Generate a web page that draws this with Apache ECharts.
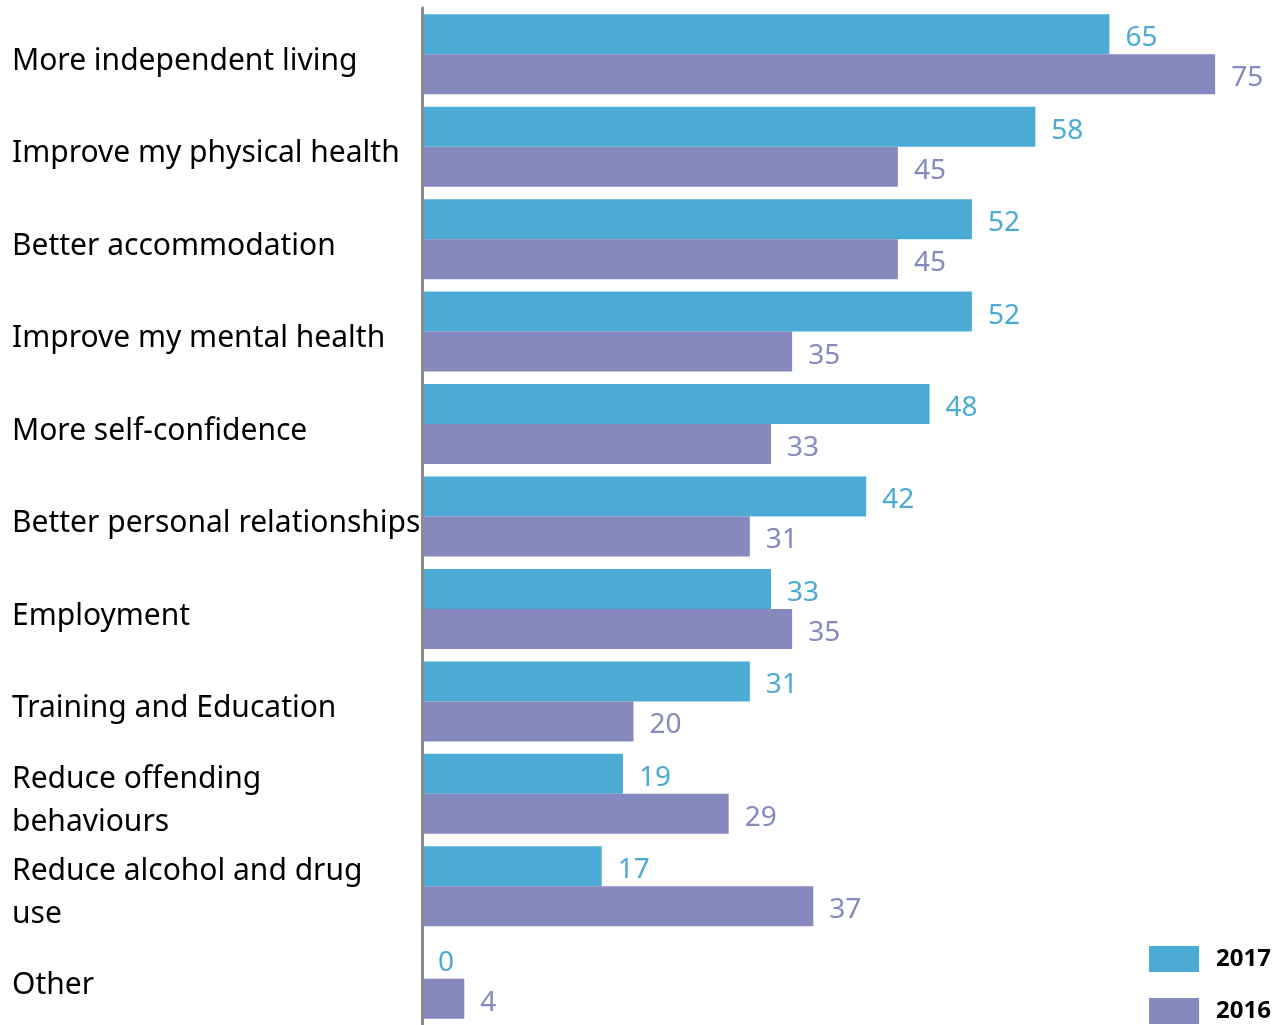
<!DOCTYPE html>
<html><head><meta charset="utf-8">
<script src="https://cdn.jsdelivr.net/npm/echarts@6/dist/echarts.min.js"></script>
<style>html,body{margin:0;padding:0;background:#fff}#c{width:1285px;height:1025px}</style>
</head><body><div id="c"></div>
<script>
const categories = ["More independent living","Improve my physical health","Better accommodation","Improve my mental health","More self-confidence","Better personal relationships","Employment","Training and Education","Reduce offending\nbehaviours","Reduce alcohol and drug\nuse","Other"];
const values2017 = [65,58,52,52,48,42,33,31,19,17,0];
const values2016 = [75,45,45,35,33,31,35,20,29,37,4];
const seriesNames = ["2017","2016"];
const colors = ["#4BABD5","#8689BE"];
const FONT = "Noto Sans";
const chart = echarts.init(document.getElementById('c'));
function lbl(c){return {show:true,position:'right',distance:16,color:c,fontSize:28,fontFamily:FONT,offset:[0,4]};}
chart.setOption({
  animation:false,
  grid:{left:422,right:17,top:8,height:1018,containLabel:false},
  legend:{orient:'vertical',right:14,bottom:1,padding:0,itemWidth:50,itemHeight:26,itemGap:26,
    icon:'rect',data:seriesNames,
    textStyle:{fontSize:24,fontWeight:'bold',color:'#000',fontFamily:FONT,padding:[0,0,0,12]}},
  xAxis:{type:'value',min:0,max:80,show:false},
  yAxis:{type:'category',data:categories,inverse:true,z:5,
    axisLine:{show:true,lineStyle:{color:'#8c8c8c',width:3}},
    axisTick:{show:false},
    axisLabel:{align:'left',margin:410,color:'#000',fontFamily:FONT,
      formatter:function(v){return '{p| }\n' + v.split('\n').map(function(s){return '{a|'+s+'}';}).join('\n');},
      rich:{p:{fontSize:1,lineHeight:14},a:{fontSize:30,lineHeight:43,color:'#000',fontFamily:FONT}}}},
  series:[
    {name:seriesNames[0],type:'bar',data:values2017,itemStyle:{color:colors[0]},barWidth:40,barGap:'0%',barCategoryGap:'13.6%',label:lbl(colors[0])},
    {name:seriesNames[1],type:'bar',data:values2016,itemStyle:{color:colors[1]},barWidth:40,barGap:'0%',label:lbl(colors[1])}
  ]
});
</script></body></html>
